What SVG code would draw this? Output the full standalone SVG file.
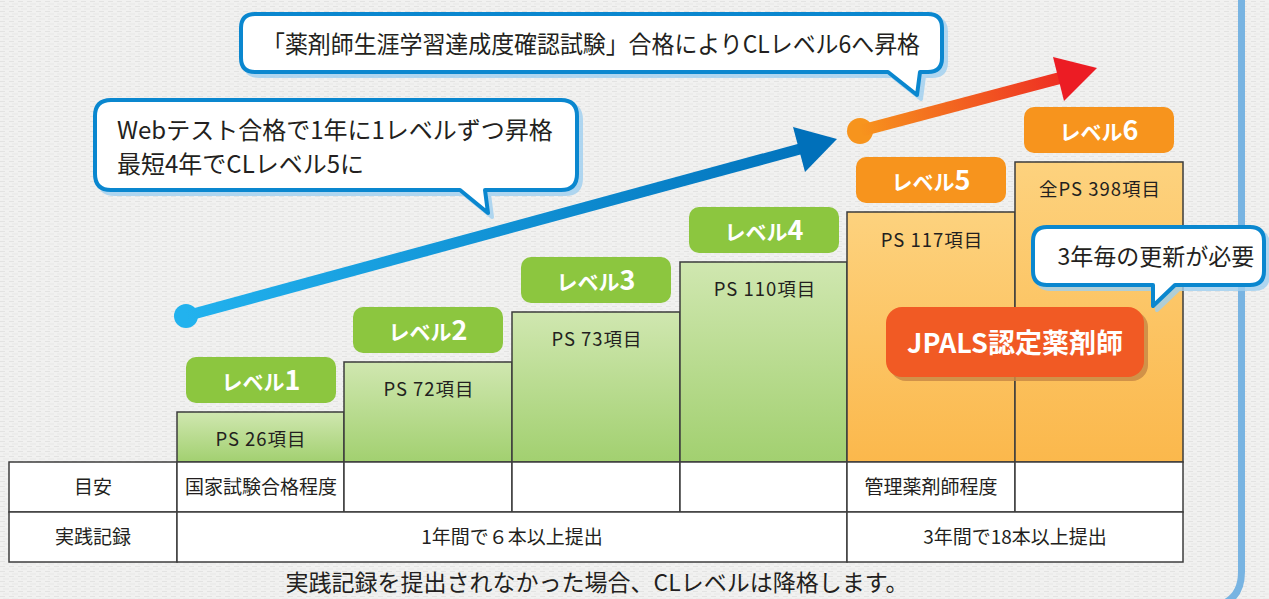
<svg xmlns="http://www.w3.org/2000/svg" width="1269" height="599" viewBox="0 0 1269 599">
<defs>
<pattern id="paper" width="9" height="5" patternUnits="userSpaceOnUse">
<rect width="9" height="5" fill="#f1f1f0"/>
<line x1="0" y1="1.5" x2="5" y2="1.5" stroke="#e3e3e2" stroke-width="1"/>
<line x1="3" y1="4" x2="9" y2="4" stroke="#e8e8e7" stroke-width="1"/>
</pattern>
<linearGradient id="gGreen" x1="0" y1="0" x2="0" y2="1">
<stop offset="0" stop-color="#d0e7b0"/>
<stop offset="1" stop-color="#a2d070"/>
</linearGradient>
<linearGradient id="gOrange" x1="0" y1="0" x2="0" y2="1">
<stop offset="0" stop-color="#fdd27e"/>
<stop offset="1" stop-color="#fbb84c"/>
</linearGradient>
<linearGradient id="gBlueArrow" gradientUnits="userSpaceOnUse" x1="186" y1="316" x2="837" y2="139">
<stop offset="0" stop-color="#22b2ee"/>
<stop offset="1" stop-color="#0070ba"/>
</linearGradient>
<linearGradient id="gOrangeArrow" gradientUnits="userSpaceOnUse" x1="860" y1="131" x2="1097" y2="68">
<stop offset="0" stop-color="#f7941d"/>
<stop offset="1" stop-color="#ec1c24"/>
</linearGradient>
<style>
.t{font-family:"Noto Sans CJK JP","Noto Sans",sans-serif;fill:#231f20;}
.bar{stroke:#3d3d3d;stroke-width:1.5;}
.cell{fill:#ffffff;stroke:#3d3d3d;stroke-width:1.5;}
.badgeG{fill:#8cc63f;}
.badgeO{fill:#f7941d;}
.bt{font-family:"Noto Sans CJK JP","Noto Sans",sans-serif;fill:#ffffff;font-weight:bold;text-anchor:middle;}
.call{fill:#ffffff;stroke:#0a87cf;stroke-width:4;stroke-linejoin:round;}
.callsh{fill:#9fd0f0;stroke:#9fd0f0;stroke-width:4;stroke-linejoin:round;opacity:0.8;}
.ps{font-size:18.5px;letter-spacing:1px;text-anchor:middle;}
.tb{font-size:19px;text-anchor:middle;}
</style>
</defs>

<rect width="1269" height="599" fill="url(#paper)"/>

<g id="frame">
<path d="M1241.5,-5 V572 Q1241.5,600 1216,606" fill="none" stroke="#78b4e2" stroke-width="7"/>
</g>

<g id="bars">
<rect class="bar" x="177" y="412" width="167" height="50" fill="url(#gGreen)"/>
<rect class="bar" x="344" y="362" width="168" height="100" fill="url(#gGreen)"/>
<rect class="bar" x="512" y="312" width="168" height="150" fill="url(#gGreen)"/>
<rect class="bar" x="680" y="262" width="167" height="200" fill="url(#gGreen)"/>
<rect class="bar" x="847" y="212" width="168" height="250" fill="url(#gOrange)"/>
<rect class="bar" x="1015" y="162" width="168" height="300" fill="url(#gOrange)"/>
<text class="t ps" x="261" y="446">PS 26項目</text>
<text class="t ps" x="429" y="396">PS 72項目</text>
<text class="t ps" x="597" y="346">PS 73項目</text>
<text class="t ps" x="765" y="296">PS 110項目</text>
<text class="t ps" x="932" y="247">PS 117項目</text>
<text class="t ps" x="1100" y="196">全PS 398項目</text>
</g>

<g id="table">
<rect class="cell" x="9" y="462" width="168" height="50"/>
<rect class="cell" x="177" y="462" width="167" height="50"/>
<rect class="cell" x="344" y="462" width="168" height="50"/>
<rect class="cell" x="512" y="462" width="168" height="50"/>
<rect class="cell" x="680" y="462" width="167" height="50"/>
<rect class="cell" x="847" y="462" width="168" height="50"/>
<rect class="cell" x="1015" y="462" width="168" height="50"/>
<rect class="cell" x="9" y="512" width="168" height="50"/>
<rect class="cell" x="177" y="512" width="670" height="50"/>
<rect class="cell" x="847" y="512" width="336" height="50"/>
<text class="t tb" x="93" y="494">目安</text>
<text class="t tb" x="261" y="494">国家試験合格程度</text>
<text class="t tb" x="931" y="494">管理薬剤師程度</text>
<text class="t tb" x="93" y="544">実践記録</text>
<text class="t tb" x="512" y="544">1年間で６本以上提出</text>
<text class="t tb" x="1015" y="544">3年間で18本以上提出</text>
</g>

<g id="level1"><rect class="badgeG" x="186" y="357" width="150" height="46" rx="10"/><text class="bt" x="261" y="390"><tspan font-size="21">レベル</tspan><tspan font-size="27">1</tspan></text></g>
<g id="level2"><rect class="badgeG" x="353" y="307" width="150" height="46" rx="10"/><text class="bt" x="428" y="340"><tspan font-size="21">レベル</tspan><tspan font-size="27">2</tspan></text></g>
<g id="level3"><rect class="badgeG" x="521" y="257" width="150" height="46" rx="10"/><text class="bt" x="596" y="290"><tspan font-size="21">レベル</tspan><tspan font-size="27">3</tspan></text></g>
<g id="level4"><rect class="badgeG" x="689" y="207" width="150" height="46" rx="10"/><text class="bt" x="764" y="240"><tspan font-size="21">レベル</tspan><tspan font-size="27">4</tspan></text></g>
<g id="level5"><rect class="badgeO" x="856" y="157" width="150" height="46" rx="10"/><text class="bt" x="931" y="190"><tspan font-size="21">レベル</tspan><tspan font-size="27">5</tspan></text></g>
<g id="level6"><rect class="badgeO" x="1024" y="107" width="150" height="46" rx="10"/><text class="bt" x="1099" y="140"><tspan font-size="21">レベル</tspan><tspan font-size="27">6</tspan></text></g>

<g id="connectors">
<g id="blue-arrow">
<circle cx="186" cy="316" r="12" fill="#22b2ee"/>
<line x1="186" y1="316" x2="800" y2="149" stroke="url(#gBlueArrow)" stroke-width="11"/>
<polygon points="837,139 793,127 805,172" fill="#0070ba"/>
</g>
<g id="orange-arrow">
<circle cx="860" cy="131" r="13" fill="#f7941d"/>
<line x1="860" y1="131" x2="1060" y2="78" stroke="url(#gOrangeArrow)" stroke-width="12"/>
<polygon points="1097,68 1053,57 1064,101" fill="#ec1c24"/>
</g>
</g>

<g id="callout-top">
<path class="callsh" transform="translate(4,4)" d="M255,14 H928 Q942,14 942,28 V58 Q942,72 928,72 H920 L917,95 L888,72 H255 Q241,72 241,58 V28 Q241,14 255,14 Z"/>
<path class="call" d="M255,14 H928 Q942,14 942,28 V58 Q942,72 928,72 H920 L917,95 L888,72 H255 Q241,72 241,58 V28 Q241,14 255,14 Z"/>
<text class="t" x="262" y="53" font-size="24" textLength="658" lengthAdjust="spacingAndGlyphs">「薬剤師生涯学習達成度確認試験」合格によりCLレベル6へ昇格</text>
</g>

<g id="callout-left">
<path class="callsh" transform="translate(4,4)" d="M111,100 H561 Q577,100 577,116 V174 Q577,190 561,190 H485 L488,213 L460,190 H111 Q95,190 95,174 V116 Q95,100 111,100 Z"/>
<path class="call" d="M111,100 H561 Q577,100 577,116 V174 Q577,190 561,190 H485 L488,213 L460,190 H111 Q95,190 95,174 V116 Q95,100 111,100 Z"/>
<text class="t" x="117" y="139" font-size="24">Webテスト合格で1年に1レベルずつ昇格</text>
<text class="t" x="117" y="173" font-size="24">最短4年でCLレベル5に</text>
</g>

<g id="callout-right">
<path class="callsh" transform="translate(4,4)" d="M1047,227 H1250 Q1264,227 1264,241 V271 Q1264,285 1250,285 H1175 L1153,306 L1153,285 H1047 Q1033,285 1033,271 V241 Q1033,227 1047,227 Z"/>
<path class="call" d="M1047,227 H1250 Q1264,227 1264,241 V271 Q1264,285 1250,285 H1175 L1153,306 L1153,285 H1047 Q1033,285 1033,271 V241 Q1033,227 1047,227 Z"/>
<text class="t" x="1156" y="265" font-size="23" text-anchor="middle">3年毎の更新が必要</text>
</g>

<g id="jpals">
<rect x="890" y="311" width="258" height="70" rx="16" fill="#c98a45" opacity="0.85"/>
<rect x="886" y="307" width="258" height="70" rx="16" fill="#f15a24"/>
<text class="bt" x="1015" y="353" font-size="27">JPALS認定薬剤師</text>
</g>

<g id="note">
<text class="t" x="597" y="591" font-size="23" text-anchor="middle">実践記録を提出されなかった場合、CLレベルは降格します。</text>
</g>
</svg>
